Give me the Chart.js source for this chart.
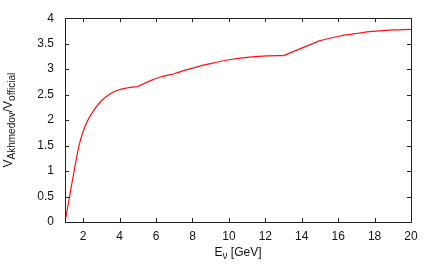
<!DOCTYPE html>
<html lang="en">
<head>
    <meta charset="UTF-8">
    <title>Chart</title>
    <script src="https://cdn.jsdelivr.net/npm/chart.js"></script>
    <style type="text/css">
        body {
            margin: 0;
            background: #fff;
        }

        #wrap {
            width: 436px;
            height: 273px;
        }
    </style>
</head>
<body>
<div id="wrap">
    <canvas id="myChart" width="436" height="273"></canvas>
</div>

<script>
  // E_nu in GeV and the ratio
  var energies = [1.0, 1.25, 1.5, 1.77, 2.0, 2.23, 2.56, 3.0, 3.47, 3.93, 4.39, 5.0,
    5.67, 6.3, 7.0, 7.7, 8.4, 9.0, 9.5, 10.1, 11.0, 12.1, 13.0, 15.0, 16.1, 17.0, 17.9, 19.0, 20.0];
  var ratios = [0, 0.5, 1.0, 1.5, 1.78, 1.98, 2.18, 2.38, 2.51, 2.59, 2.63, 2.66,
    2.77, 2.85, 2.91, 2.99, 3.06, 3.11, 3.15, 3.19, 3.23, 3.26, 3.265, 3.56, 3.65, 3.7, 3.74, 3.77, 3.78];
  // energies where the curve has a visible kink
  var kinks = [5.0, 7.0, 13.0, 15.0];

  var xTicks = [2, 4, 6, 8, 10, 12, 14, 16, 18, 20];
  var yTicks = [0, 0.5, 1, 1.5, 2, 2.5, 3, 3.5, 4];

  // split the curve at the kinks so each piece is smoothed on its own
  var segments = [[]];
  for (var i = 0; i < energies.length; i++) {
    var pt = {x: energies[i], y: ratios[i]};
    segments[segments.length - 1].push(pt);
    if (kinks.indexOf(energies[i]) >= 0) {
      segments.push([pt]);
    }
  }

  var datasets = segments.map(function (seg) {
    return {
      data: seg,
      showLine: true,
      borderColor: '#ff1010',
      borderWidth: 1.2,
      pointRadius: 0,
      cubicInterpolationMode: 'monotone'
    };
  });

  var FONT = '"Liberation Sans", Arial, sans-serif';

  // gnuplot style frame, inward ticks and axis titles with subscripts
  var framePlugin = {
    id: 'frame',
    afterDraw: function (chart) {
      var ctx = chart.ctx;
      var a = chart.chartArea;
      var xs = chart.scales.x;
      var ys = chart.scales.y;
      var t = 4;
      ctx.save();
      ctx.strokeStyle = '#222';
      ctx.lineWidth = 1;
      ctx.beginPath();
      for (var v of xTicks) {
        var px = Math.round(xs.getPixelForValue(v)) + 0.5;
        ctx.moveTo(px, a.bottom);
        ctx.lineTo(px, a.bottom - t);
        ctx.moveTo(px, a.top);
        ctx.lineTo(px, a.top + t);
      }
      for (var w of yTicks) {
        var py = Math.round(ys.getPixelForValue(w)) + 0.5;
        ctx.moveTo(a.left, py);
        ctx.lineTo(a.left + t, py);
        ctx.moveTo(a.right, py);
        ctx.lineTo(a.right - t, py);
      }
      ctx.stroke();
      ctx.strokeRect(Math.round(a.left) + 0.5, Math.round(a.top) + 0.5,
        Math.round(a.right - a.left), Math.round(a.bottom - a.top));

      ctx.fillStyle = '#111';
      ctx.textBaseline = 'alphabetic';

      // x title: E_nu [GeV]
      var big = '12px ' + FONT, small = '10px ' + FONT;
      var parts = [['E', big, 0], ['\u03bd', small, 3], [' [GeV]', big, 0]];
      drawParts(ctx, parts, (a.left + a.right) / 2, 256);

      // y title: V_Akhmedov / V_official, rotated
      ctx.translate(12, (a.top + a.bottom) / 2);
      ctx.rotate(-Math.PI / 2);
      var yparts = [['V', big, 0], ['Akhmedov', small, 3], ['/V', big, 0], ['official', small, 3]];
      drawParts(ctx, yparts, 0, 0);
      ctx.restore();
    }
  };

  function drawParts(ctx, parts, cx, baseline) {
    var total = 0;
    for (var p of parts) {
      ctx.font = p[1];
      total += ctx.measureText(p[0]).width;
    }
    var x = cx - total / 2;
    ctx.textAlign = 'left';
    for (var q of parts) {
      ctx.font = q[1];
      ctx.fillText(q[0], x, baseline + q[2]);
      x += ctx.measureText(q[0]).width;
    }
  }

  var ctx = document.getElementById('myChart').getContext('2d');

  var myChart = new Chart(ctx, {
    type: 'scatter',
    data: {
      datasets: datasets
    },
    plugins: [framePlugin],
    options: {
      responsive: false,
      animation: false,
      layout: {
        padding: {top: 14, right: 25, left: 0, bottom: 0}
      },
      plugins: {
        legend: {display: false},
        tooltip: {enabled: false}
      },
      scales: {
        x: {
          type: 'linear',
          min: 1,
          max: 20,
          afterBuildTicks: function (scale) {
            scale.ticks = xTicks.map(function (v) { return {value: v}; });
          },
          afterFit: function (scale) {
            scale.height = 51;
          },
          grid: {display: false, drawTicks: false},
          border: {display: false},
          ticks: {
            padding: 7,
            color: '#111',
            maxRotation: 0,
            autoSkip: false,
            font: {family: FONT, size: 12},
            callback: function (value) { return String(value); }
          }
        },
        y: {
          type: 'linear',
          min: 0,
          max: 4,
          afterBuildTicks: function (scale) {
            scale.ticks = yTicks.map(function (v) { return {value: v}; });
          },
          afterFit: function (scale) {
            scale.width = 65;
          },
          grid: {display: false, drawTicks: false},
          border: {display: false},
          ticks: {
            padding: 11,
            color: '#111',
            autoSkip: false,
            font: {family: FONT, size: 12},
            callback: function (value) { return String(value); }
          }
        }
      }
    }
  });
</script>
</body>
</html>
